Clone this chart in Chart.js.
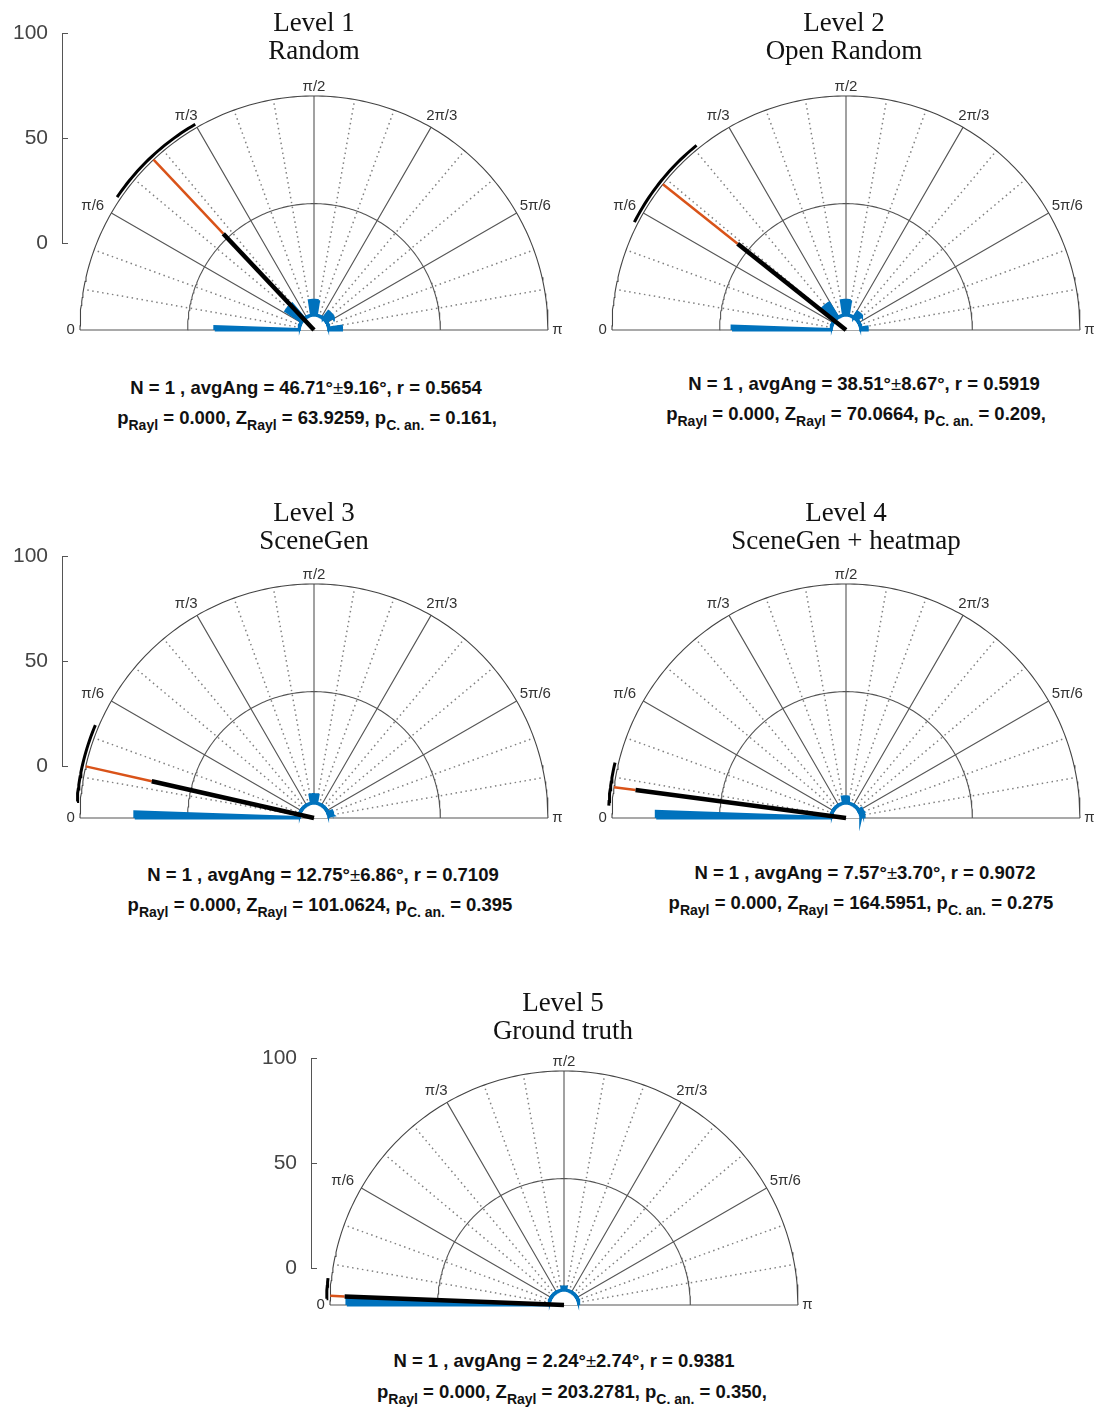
<!DOCTYPE html>
<html>
<head>
<meta charset="utf-8">
<script src="https://cdn.jsdelivr.net/npm/chart.js@4.4.1/dist/chart.umd.min.js"></script>
<style>
  body { margin: 0; width: 1095px; height: 1412px; position: relative; overflow: hidden; background: #fff; }
  canvas { position: absolute; }
  .title { position: absolute; width: 400px; margin-left: -200px; text-align: center;
           font-family: "Liberation Serif", serif; font-size: 27px; line-height: 28px; color: #111; }
  .stats { position: absolute; white-space: nowrap; transform: translateX(-50%);
           font-family: "Liberation Sans", Arial, sans-serif; font-weight: bold; font-size: 18.5px; line-height: 22px; color: #111; }
  .stats sub { font-size: 14px; vertical-align: -6px; line-height: 0; }
  .pm { font-weight: normal; }
</style>
</head>
<body>
<script>
// ---- data ----
const levels    = ['Level 1', 'Level 2', 'Level 3', 'Level 4', 'Level 5'];
const subtitles = ['Random', 'Open Random', 'SceneGen', 'SceneGen + heatmap', 'Ground truth'];
const avgAng  = [46.71, 38.51, 12.75, 7.57, 2.24];
const avgStd  = ['9.16', '8.67', '6.86', '3.70', '2.74'];
const rLen    = [0.5654, 0.5919, 0.7109, 0.9072, 0.9381];
const pRayl   = ['0.000', '0.000', '0.000', '0.000', '0.000'];
const zRayl   = ['63.9259', '70.0664', '101.0624', '164.5951', '203.2781'];
const pCAn    = ['0.161,', '0.209,', '0.395', '0.275', '0.350,'];
// black arc around the mean direction (degrees)
const arcLow  = [34, 27, 4, 3, 1.5];
const arcHigh = [60, 51, 23, 13.5, 6.5];
// rose histogram bins (degrees) and counts
const binFrom  = [[0, 34, 81, 128, 172], [0, 42, 81, 122, 172], [0, 80, 158], [0, 80, 148, 166], [0, 83]];
const binTo    = [[2, 50, 99, 146, 180], [2, 58, 99, 138, 180], [2, 100, 172], [2, 98, 160, 176], [2, 97]];
const binCount = [[40, 9, 7, 4, 6], [47, 8, 7, 3, 3], [78, 4, 2], [83, 3, 1.5, 1.5], [96, 1.5]];
const angleTicks = ['0', 'π/6', 'π/3', 'π/2', '2π/3', '5π/6', 'π'];
const countTicks = [0, 50, 100];

// ---- layout ----
const R_PX = 234;          // pixels per unit radius
const PAD_L = 270, PAD_R = 249, PAD_T = 275, PAD_B = 20;
const HOLE = 0.064;        // blank centre of the rose
const COUNT_UNIT = 0.009;  // radius per count (100 counts = 0.9 R)
const INNER_RING = 0.54;
const STUB_W = 62;
const panels = [
  { cx: 314, cy: 330,  tx: 314, ty: 8,   sx: [306, 307], sy: [377, 407], stub: { x: 62,  top: 33 } },
  { cx: 846, cy: 330,  tx: 844, ty: 8,   sx: [864, 856], sy: [373, 403] },
  { cx: 314, cy: 818,  tx: 314, ty: 498, sx: [323, 320], sy: [864, 894], stub: { x: 62,  top: 556 } },
  { cx: 846, cy: 818,  tx: 846, ty: 498, sx: [865, 861], sy: [862, 892] },
  { cx: 564, cy: 1305, tx: 563, ty: 988, sx: [564, 572], sy: [1350, 1381], stub: { x: 311, top: 1058 } }
];

const BLUE = '#0072BD', ORANGE = '#D95319';

function polar(deg, r) {
  const t = deg * Math.PI / 180;
  return { x: -r * Math.cos(t), y: r * Math.sin(t) };
}
function arcPts(r, a0, a1) {
  const pts = [];
  const n = Math.max(2, Math.ceil(Math.abs(a1 - a0)));
  for (let i = 0; i <= n; i++) pts.push(polar(a0 + (a1 - a0) * i / n, r));
  return pts;
}
const GAP = { x: null, y: null };

function line(data, color, width, extra) {
  return Object.assign({ data, showLine: true, borderColor: color, borderWidth: width,
    pointRadius: 0, fill: false, tension: 0, spanGaps: false, borderCapStyle: 'butt' }, extra || {});
}

// outline of the rose, closed back along the hole so only the bins get filled
function roseData(k) {
  const pts = [polar(0, HOLE)];
  let last = 0;
  binFrom[k].forEach((a0, i) => {
    const a1 = binTo[k][i];
    const rr = HOLE + binCount[k][i] * COUNT_UNIT;
    if (a0 > last) pts.push(...arcPts(HOLE, last, a0).slice(1));
    pts.push(polar(a0, rr), ...arcPts(rr, a0, a1).slice(1), polar(a1, HOLE));
    last = a1;
  });
  if (last < 180) pts.push(...arcPts(HOLE, last, 180).slice(1));
  pts.push(...arcPts(HOLE, 180, 0).slice(1));
  return pts;
}

function gridSets() {
  const solid = [], dotted = [];
  for (let a = 10; a < 180; a += 10) {
    if (a % 30 === 0) solid.push(polar(a, 0), polar(a, 1), GAP);
    else dotted.push(polar(a, 0.08), polar(a, 1), GAP);
  }
  return [
    line(arcPts(1, 0, 180), '#444', 1.1, { order: 10 }),
    line(arcPts(INNER_RING, 0, 180), '#555', 1.1, { order: 10 }),
    line([polar(0, 1), polar(180, 1)], '#555', 1.1, { order: 10 }),
    line(solid, '#555', 1.1, { order: 10 }),
    line(dotted, '#808080', 1.5, { order: 11, borderDash: [1.5, 3.5] })
  ];
}

const angleLabels = {
  id: 'angleLabels',
  afterDraw(chart) {
    const { ctx, scales: { x, y } } = chart;
    ctx.save();
    ctx.font = '15px "Liberation Sans", Arial, sans-serif';
    ctx.fillStyle = '#333';
    ctx.textAlign = 'center';
    ctx.textBaseline = 'middle';
    angleTicks.forEach((lab, i) => {
      const a = i * 30;
      const s = Math.abs(Math.sin(2 * a * Math.PI / 180));
      const px = polar(a, 1.04 + 0.06 * s).x;
      const py = polar(a, 1.04 + 0.02 * s).y;
      ctx.fillText(lab, x.getPixelForValue(px), y.getPixelForValue(py));
    });
    ctx.restore();
  }
};

function addEl(tag, cls, html, style) {
  const el = document.createElement(tag);
  if (cls) el.className = cls;
  el.innerHTML = html;
  Object.assign(el.style, style);
  document.body.appendChild(el);
  return el;
}

panels.forEach((p, k) => {
  // polar panel
  const cv = document.createElement('canvas');
  cv.width = PAD_L + PAD_R; cv.height = PAD_T + PAD_B;
  cv.style.left = (p.cx - PAD_L) + 'px';
  cv.style.top = (p.cy - PAD_T) + 'px';
  document.body.appendChild(cv);

  const datasets = [
    line(arcPts(1.015, arcLow[k], arcHigh[k]), '#000', 3, { order: 1 }),
    line([polar(avgAng[k], 0), polar(avgAng[k], rLen[k])], '#000', 4.5, { order: 2 }),
    line([polar(avgAng[k], rLen[k]), polar(avgAng[k], 1)], ORANGE, 2.5, { order: 3 }),
    line(roseData(k), BLUE, 3, { order: 5, fill: 'shape', backgroundColor: BLUE, borderJoinStyle: 'miter' }),
    line(arcPts(HOLE, 0, 180), 'rgba(0,0,0,0)', 0, { order: 6, fill: 'shape', backgroundColor: '#fff' }),
    ...gridSets()
  ];

  new Chart(cv, {
    type: 'scatter',
    data: { datasets },
    options: {
      responsive: false, animation: false, events: [],
      layout: { padding: 0, autoPadding: false },
      plugins: { legend: { display: false }, tooltip: { enabled: false } },
      scales: {
        x: { type: 'linear', display: false, min: -PAD_L / R_PX, max: PAD_R / R_PX },
        y: { type: 'linear', display: false, min: -PAD_B / R_PX, max: PAD_T / R_PX }
      }
    },
    plugins: [angleLabels]
  });

  // count axis stub
  if (p.stub) {
    const sc = document.createElement('canvas');
    sc.width = STUB_W + 6; sc.height = 210 + 24;
    sc.style.left = (p.stub.x - STUB_W) + 'px';
    sc.style.top = (p.stub.top - 12) + 'px';
    document.body.appendChild(sc);
    new Chart(sc, {
      type: 'scatter',
      data: { datasets: [] },
      options: {
        responsive: false, animation: false, events: [],
        layout: { padding: { top: 12, bottom: 12, left: 0, right: 0 }, autoPadding: false },
        plugins: { legend: { display: false }, tooltip: { enabled: false } },
        scales: {
          x: { display: false, min: 0, max: 1 },
          y: {
            min: countTicks[0], max: countTicks[countTicks.length - 1],
            afterFit(s) { s.width = STUB_W; s.paddingTop = 0; s.paddingBottom = 0; },
            afterBuildTicks(s) { s.ticks = countTicks.map(v => ({ value: v })); },
            ticks: { padding: 14, color: '#444', font: { family: 'Liberation Sans', size: 21 } },
            grid: { drawTicks: false, color: '#555', lineWidth: 1 },
            border: { color: '#555' }
          }
        }
      }
    });
  }

  // titles and statistics
  addEl('div', 'title', levels[k] + '<br>' + subtitles[k], { left: p.tx + 'px', top: p.ty + 'px' });
  addEl('div', 'stats',
    'N = 1 , avgAng = ' + avgAng[k].toFixed(2) + '°<span class="pm">±</span>' + avgStd[k] + '°, r = ' + rLen[k].toFixed(4),
    { left: p.sx[0] + 'px', top: p.sy[0] + 'px' });
  addEl('div', 'stats',
    'p<sub>Rayl</sub> = ' + pRayl[k] + ', Z<sub>Rayl</sub> = ' + zRayl[k] + ', p<sub>C. an.</sub> = ' + pCAn[k],
    { left: p.sx[1] + 'px', top: p.sy[1] + 'px' });
});
</script>
</body>
</html>
